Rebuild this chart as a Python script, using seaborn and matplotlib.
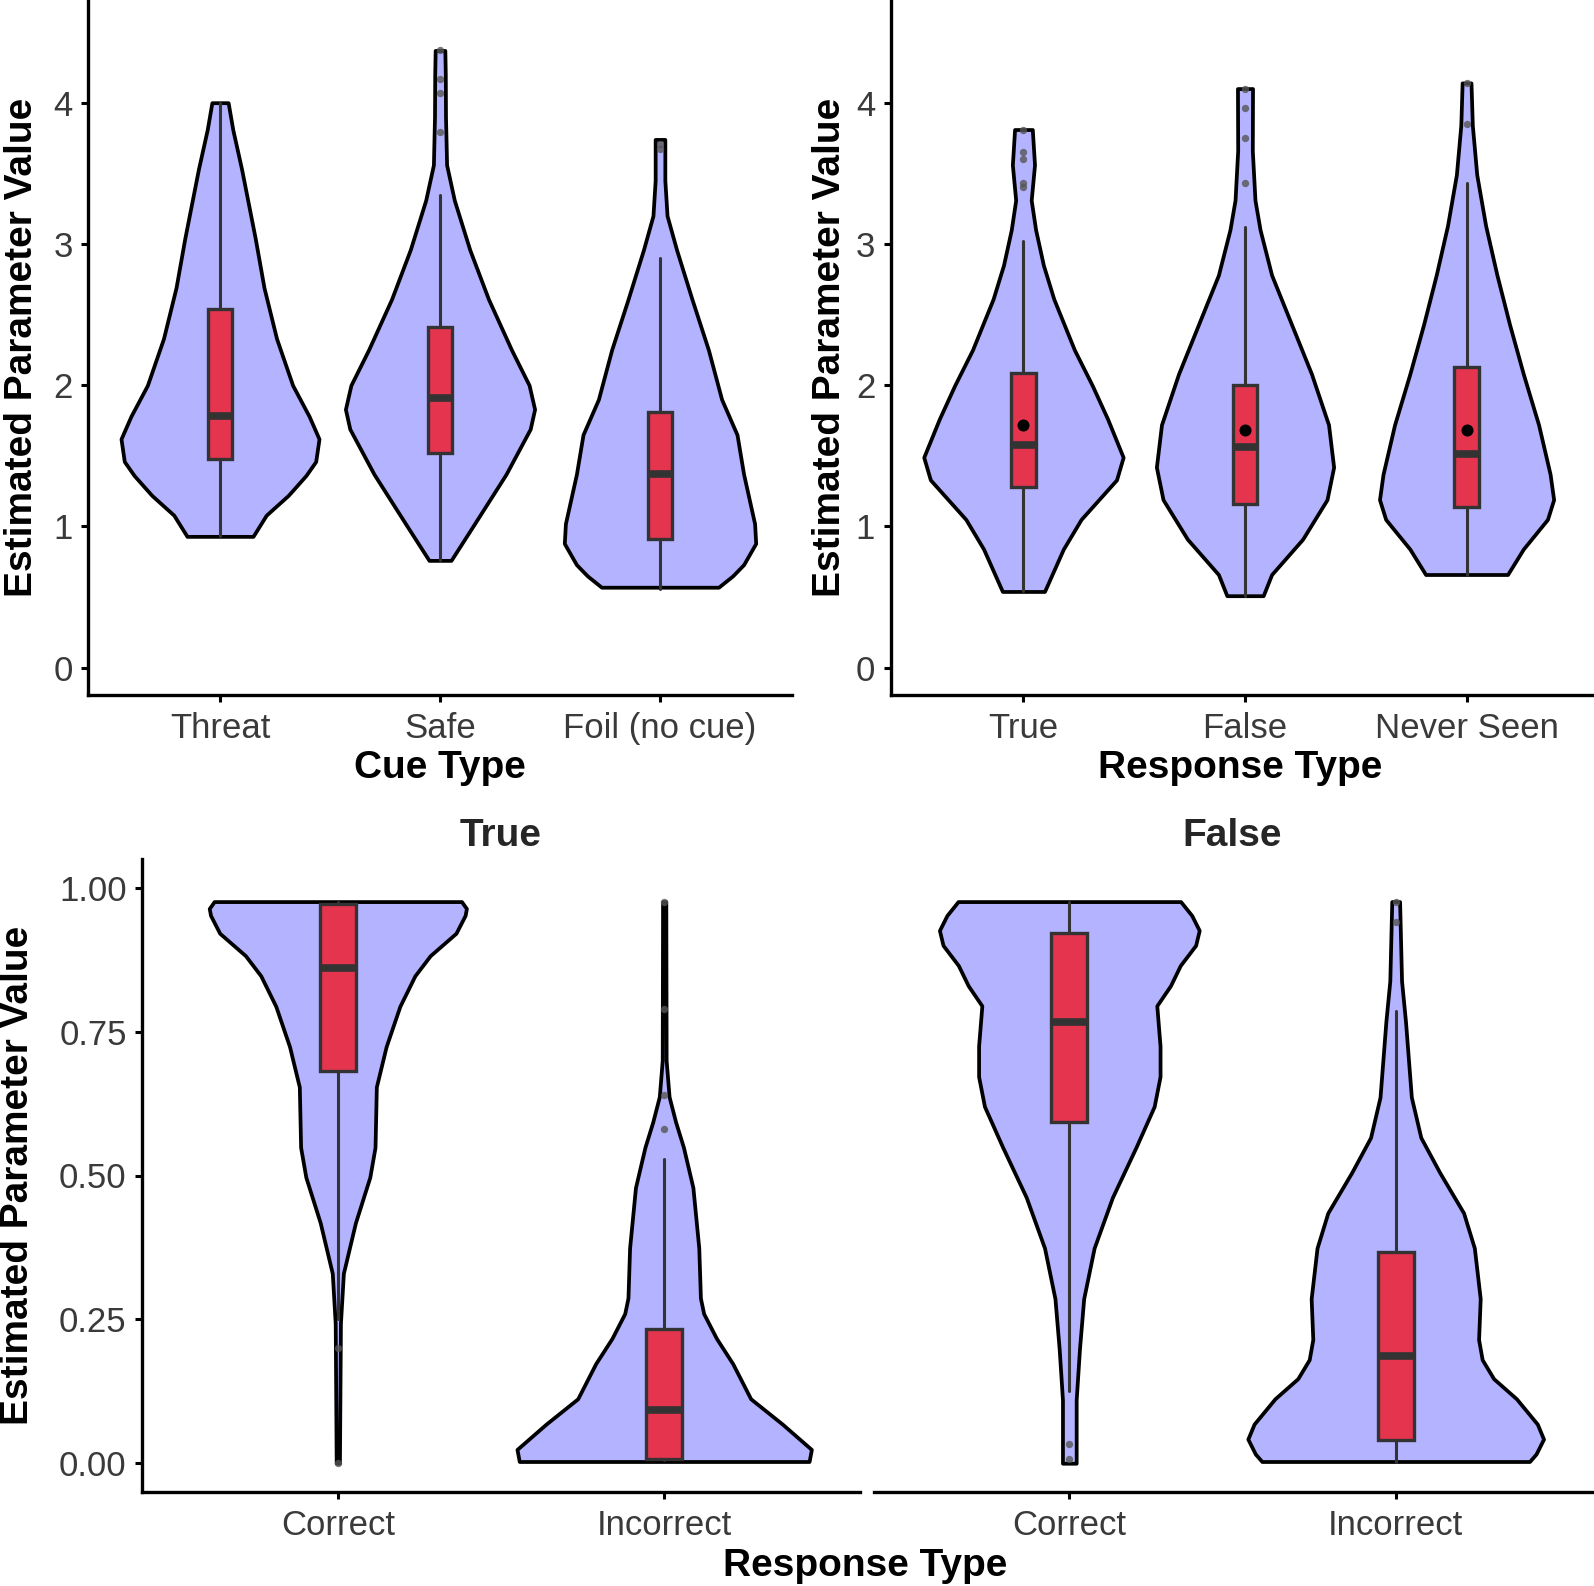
import numpy as np
import matplotlib
matplotlib.use("Agg")
import matplotlib.pyplot as plt
import seaborn as sns

# Estilo general
sns.set_theme(style="ticks")
plt.rcParams['font.family'] = ['Liberation Sans', 'DejaVu Sans']

VIOLIN = '#b3b3ff'
BOX = '#e5344e'
EDGE = '#333333'
TICK_TXT = '#3a3a3a'

# ---- Datos ----
# Panel superior izquierdo: tipo de señal
cue_names = ['Threat', 'Safe', 'Foil (no cue)']
threat_y = [0.93, 1.08, 1.22, 1.36, 1.46, 1.62, 1.78, 2.0, 2.33, 2.69, 3.04, 3.53, 3.81, 4.0]
threat_w = [0.15, 0.21, 0.31, 0.39, 0.435, 0.45, 0.405, 0.33, 0.257, 0.20, 0.16, 0.098, 0.058, 0.037]
safe_y = [0.76, 1.02, 1.37, 1.69, 1.83, 2.0, 2.25, 2.61, 2.96, 3.31, 3.56, 3.9, 4.2, 4.37]
safe_w = [0.05, 0.157, 0.30, 0.41, 0.43, 0.405, 0.325, 0.22, 0.135, 0.065, 0.03, 0.025, 0.024, 0.022]
foil_y = [0.57, 0.65, 0.73, 0.88, 1.02, 1.37, 1.65, 1.9, 2.25, 2.61, 2.96, 3.2, 3.45, 3.74]
foil_w = [0.266, 0.33, 0.38, 0.435, 0.43, 0.38, 0.35, 0.28, 0.22, 0.145, 0.075, 0.032, 0.022, 0.022]
cue_q1 = [1.48, 1.52, 0.91]
cue_med = [1.78, 1.91, 1.37]
cue_q3 = [2.54, 2.41, 1.81]
cue_lo = [0.93, 0.76, 0.56]
cue_hi = [4.0, 3.35, 2.90]
cue_out = [[], [3.79, 4.07, 4.17, 4.37], [3.67, 3.71]]

# Panel superior derecho: tipo de respuesta
resp_names = ['True', 'False', 'Never Seen']
true_y = [0.54, 0.84, 1.05, 1.19, 1.33, 1.49, 1.76, 2.0, 2.25, 2.61, 2.85, 3.1, 3.31, 3.56, 3.81]
true_w = [0.095, 0.18, 0.26, 0.34, 0.42, 0.45, 0.38, 0.31, 0.23, 0.137, 0.09, 0.055, 0.035, 0.05, 0.04]
false_y = [0.51, 0.66, 0.91, 1.19, 1.42, 1.72, 2.08, 2.43, 2.78, 3.1, 3.31, 3.66, 4.1]
false_w = [0.082, 0.12, 0.26, 0.37, 0.40, 0.377, 0.30, 0.21, 0.12, 0.068, 0.045, 0.033, 0.034]
never_y = [0.66, 0.84, 1.05, 1.19, 1.37, 1.72, 2.08, 2.43, 2.78, 3.13, 3.49, 3.84, 4.14]
never_w = [0.185, 0.256, 0.365, 0.393, 0.377, 0.325, 0.256, 0.194, 0.137, 0.086, 0.046, 0.026, 0.02]
resp_q1 = [1.28, 1.16, 1.14]
resp_med = [1.58, 1.565, 1.51]
resp_q3 = [2.09, 2.0, 2.13]
resp_lo = [0.54, 0.51, 0.66]
resp_hi = [3.02, 3.12, 3.43]
resp_mean = [1.72, 1.68, 1.68]
resp_out = [[3.40, 3.43, 3.60, 3.65, 3.81], [3.43, 3.75, 3.96, 4.10], [3.85, 4.14]]

# Paneles inferiores: exactitud dentro de True / False
acc_names = ['Correct', 'Incorrect']
tc_y = [0.0, 0.243, 0.33, 0.418, 0.497, 0.549, 0.654, 0.724, 0.794, 0.847, 0.882, 0.921, 0.952, 0.964, 0.976]
tc_w = [0.005, 0.008, 0.017, 0.054, 0.098, 0.114, 0.118, 0.148, 0.19, 0.236, 0.283, 0.362, 0.39, 0.394, 0.379]
ti_y = [0.003, 0.024, 0.068, 0.112, 0.173, 0.217, 0.26, 0.287, 0.374, 0.479, 0.549, 0.593, 0.637, 0.7, 0.976]
ti_w = [0.444, 0.451, 0.362, 0.265, 0.21, 0.16, 0.121, 0.111, 0.106, 0.088, 0.059, 0.035, 0.015, 0.006, 0.005]
true_q1 = [0.682, 0.007]
true_med = [0.86, 0.093]
true_q3 = [0.971, 0.234]
true_lo = [0.25, 0.005]
true_hi = [0.976, 0.528]
true_out = [[0.0, 0.20], [0.58, 0.64, 0.79, 0.976]]

fc_y = [0.0, 0.11, 0.198, 0.286, 0.374, 0.462, 0.55, 0.62, 0.672, 0.725, 0.795, 0.83, 0.865,
        0.9, 0.926, 0.952, 0.976]
fc_w = [0.021, 0.021, 0.031, 0.044, 0.076, 0.132, 0.205, 0.26, 0.278, 0.278, 0.268, 0.31, 0.34,
        0.387, 0.398, 0.375, 0.341]
fi_y = [0.003, 0.016, 0.042, 0.068, 0.112, 0.147, 0.18, 0.215, 0.286, 0.374, 0.435, 0.505, 0.566, 0.636, 0.768, 0.838, 0.976]
fi_w = [0.41, 0.43, 0.453, 0.434, 0.37, 0.30, 0.265, 0.254, 0.259, 0.241, 0.208, 0.135, 0.077, 0.048, 0.03, 0.018, 0.012]
false_q1 = [0.593, 0.04]
false_med = [0.766, 0.187]
false_q3 = [0.922, 0.367]
false_lo = [0.125, 0.003]
false_hi = [0.976, 0.786]
false_out = [[0.007, 0.033], [0.94, 0.975]]


def draw_panel(ax, names, profiles, q1, med, q3, lo, hi, outliers, means=None):
    pos = np.arange(len(names))
    # violines
    for p, (yy, ww) in zip(pos, profiles):
        yy = np.asarray(yy)
        ww = np.asarray(ww)
        poly = ax.fill_betweenx(yy, p - ww, p + ww, facecolor=VIOLIN, edgecolor='black',
                                linewidth=2.7, zorder=1)
        poly.set_joinstyle('round')
    # cajas
    stats = [dict(q1=a, med=b, q3=c, whislo=d, whishi=e, fliers=[])
             for a, b, c, d, e in zip(q1, med, q3, lo, hi)]
    ax.bxp(stats, positions=pos, widths=0.11, patch_artist=True, showcaps=False,
           showfliers=False, manage_ticks=False,
           boxprops=dict(facecolor=BOX, edgecolor=EDGE, linewidth=2.4),
           medianprops=dict(color=EDGE, linewidth=5.5, solid_capstyle='butt'),
           whiskerprops=dict(color=EDGE, linewidth=2.2), zorder=2)
    # valores atipicos
    ox = [p for p, vals in zip(pos, outliers) for _ in vals]
    oy = [v for vals in outliers for v in vals]
    if oy:
        sns.scatterplot(x=ox, y=oy, ax=ax, color='#555555', s=28, alpha=0.8,
                        linewidth=0, zorder=4)
    if means is not None:
        sns.scatterplot(x=pos, y=means, ax=ax, color='black', s=75,
                        linewidth=0, zorder=5)
    ax.set_xticks(pos)
    ax.set_xticklabels(names)
    ax.set_xlim(-0.6, len(names) - 0.4)
    ax.set_xlabel('')
    ax.set_ylabel('')
    ax.tick_params(length=5, width=2.2, color='black', labelsize=25,
                   labelcolor=TICK_TXT)
    ax.tick_params(axis='x', pad=7)
    ax.tick_params(axis='y', pad=6)
    for s in ax.spines.values():
        s.set_linewidth(2.4)
        s.set_color('black')
    sns.despine(ax=ax)


W, H = 1594, 1586
fig = plt.figure(figsize=(W / 100, H / 100), dpi=100)


def px_axes(x0, y0, x1, y1):
    return fig.add_axes([x0 / W, 1 - y1 / H, (x1 - x0) / W, (y1 - y0) / H])


ax1 = px_axes(88, 0, 792, 695)
draw_panel(ax1, cue_names, [(threat_y, threat_w), (safe_y, safe_w), (foil_y, foil_w)],
           cue_q1, cue_med, cue_q3, cue_lo, cue_hi, cue_out)
ax2 = px_axes(890.5, 0, 1599.5, 695)
draw_panel(ax2, resp_names, [(true_y, true_w), (false_y, false_w), (never_y, never_w)],
           resp_q1, resp_med, resp_q3, resp_lo, resp_hi, resp_out, means=resp_mean)
for ax in (ax1, ax2):
    ax.set_ylim(-0.193, 4.727)
    ax.set_yticks([0, 1, 2, 3, 4])

ax3 = px_axes(142, 859, 860, 1492)
draw_panel(ax3, acc_names, [(tc_y, tc_w), (ti_y, ti_w)],
           true_q1, true_med, true_q3, true_lo, true_hi, true_out)
ax4 = px_axes(873.5, 859, 1591.5, 1492)
draw_panel(ax4, acc_names, [(fc_y, fc_w), (fi_y, fi_w)],
           false_q1, false_med, false_q3, false_lo, false_hi, false_out)
for ax in (ax3, ax4):
    ax.set_ylim(-0.05, 1.05)
    ax.set_yticks([0, 0.25, 0.5, 0.75, 1.0])
    ax.set_yticklabels(['0.00', '0.25', '0.50', '0.75', '1.00'])
sns.despine(ax=ax4, left=True)
ax4.tick_params(axis='y', left=False, labelleft=False)

ax3.set_title('True', fontsize=28, fontweight='bold', pad=9.5)
ax4.set_title('False', fontsize=28, fontweight='bold', pad=9.5)

# Titulos de ejes
def ftext(x, y, s, **kw):
    fig.text(x / W, 1 - y / H, s, fontsize=28, fontweight='bold', color='black',
             ha='center', va='center', **kw)


ftext(22.5, 347, 'Estimated Parameter Value', rotation=90)
ftext(829.5, 347, 'Estimated Parameter Value', rotation=90)
ftext(18.5, 1175, 'Estimated Parameter Value', rotation=90)
ftext(440, 768, 'Cue Type')
ftext(1240, 768, 'Response Type')
ftext(865, 1566, 'Response Type')

fig.savefig('out.png', dpi=100)
